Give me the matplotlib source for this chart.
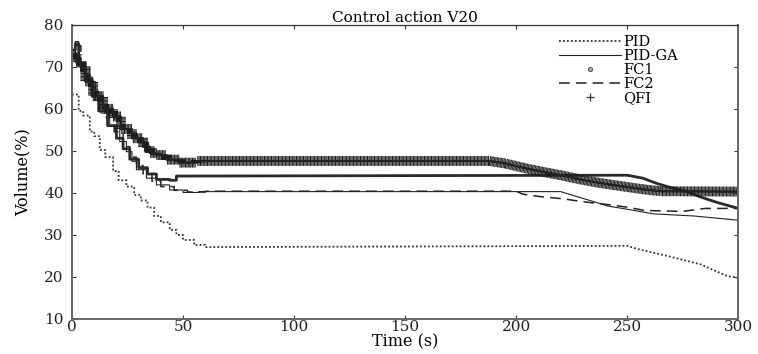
import matplotlib
matplotlib.use('Agg')
import matplotlib.pyplot as plt
import matplotlib.patheffects as pe
from matplotlib.lines import Line2D

# sampled responses (time in s, volume in %)
t_pid = [0, 3, 5, 8, 10, 12.5, 15, 18.5, 21, 24.5, 28, 31, 34, 37, 40, 44, 47, 50, 55, 60,
         250, 255, 268, 283, 295, 300]
v_pid = [63.4, 59.5, 58.4, 54.6, 53.5, 50.2, 48.5, 45.2, 43, 41.5, 39.5, 38.2, 36.5, 34.5, 33,
         31.2, 30, 28.8, 27.6, 27.1, 27.4, 26.6, 25, 23, 20.2, 19.8]

t_ga = [0, 1.5, 3, 5, 8, 10.5, 13, 17, 21.5, 24.5, 27, 29, 33.5, 38, 44, 50, 57,
        220, 225, 230, 235, 241, 250, 262, 280, 300]
v_ga = [73, 76, 71, 70, 66.5, 62, 59, 55.8, 52.2, 49.8, 47.5, 45.5, 43.5, 41.9, 40.7, 40.1, 40.3,
        40.3, 39.5, 38.7, 37.9, 36.9, 36.1, 35, 34.5, 33.5]

t_fc1 = [0, 1.5, 3, 6, 9, 12, 16, 20, 23, 26, 30, 34, 38, 44, 47,
         250, 257, 263, 270, 276, 282, 290, 300]
v_fc1 = [74, 75.5, 71, 67, 63, 59.5, 56, 53, 50.5, 48, 46, 44.5, 43.2, 43, 44,
         44.2, 43.5, 42.3, 41.2, 40.5, 39.2, 37.8, 36.3]

t_fc2 = [0, 2, 4, 6, 9, 12, 15, 19, 23, 26, 29, 32, 36, 40, 46, 52, 60,
         200, 203, 211, 221, 230, 240, 250, 258, 275, 285, 300]
v_fc2 = [72, 75, 71, 68, 65, 61, 58, 54.5, 51, 48.5, 46.5, 44.5, 42.8, 41.5, 40.6, 40.2, 40.4,
         40.4, 39.7, 39.1, 38.6, 37.9, 37.3, 36.6, 35.8, 35.6, 36.3, 36.3]

t_qfi = [0, 2, 4, 6, 9.5, 14, 18.5, 22, 27, 32, 35, 38, 42.5, 48.5, 56,
         188, 195, 203, 212, 220, 228, 235, 242, 250, 258, 265, 300]
v_qfi = [73, 71, 70, 66.5, 63, 60, 58.2, 55.2, 53, 51, 49.5, 49, 47.9, 47.2, 47.6,
         47.6, 47, 46, 45, 44.2, 43.3, 42.6, 42, 41.4, 40.8, 40.4, 40.3]

labels = ['PID', 'PID-GA', 'FC1', 'FC2', 'QFI']


def staircase(t, v, t_end=60):
    # hold values (zero-order) during the coarse transient, plain line after it
    xs, ys = [], []
    for i in range(len(t)):
        if i > 0 and t[i] <= t_end:
            xs.append(t[i])
            ys.append(v[i - 1])
        xs.append(t[i])
        ys.append(v[i])
    return xs, ys


plt.rcParams['font.family'] = 'DejaVu Serif'
plt.rcParams['font.size'] = 11

fig = plt.figure(figsize=(7.58, 3.54), dpi=100)
ax = fig.add_axes([0.095, 0.099, 0.879, 0.831])

ax.plot(*staircase(t_pid, v_pid), ls=(0, (1, 1.2)), lw=1.3, color='#333333')
ax.plot(*staircase(t_ga, v_ga), ls='-', lw=0.8, color='#222222')
ax.plot(*staircase(t_fc2, v_fc2), ls=(0, (7, 4)), lw=1.1, color='#222222')
ax.plot(*staircase(t_fc1, v_fc1), ls='-', lw=2.0, color='#2a2a2a')
# dense "+" markers drawn as ticks along the path (tick length is relative to spacing)
ticks = dict(spacing=1.0, length=3.2, linewidth=0.75, foreground='#1e1e1e')
ax.plot(*staircase(t_qfi, v_qfi), ls='-', lw=1.4, color='#222222',
        path_effects=[pe.withTickedStroke(angle=90, **ticks),
                      pe.withTickedStroke(angle=-90, **ticks)])

ax.set_xlim(0, 300)
ax.set_ylim(10, 80)
ax.set_xticks(range(0, 301, 50))
ax.set_yticks(range(10, 81, 10))
ax.tick_params(direction='in', top=True, right=True, length=3, width=0.8, colors='#333333',
               labelcolor='#222222', pad=1)
ax.tick_params(axis='y', pad=6)

for side in ['left', 'bottom', 'right']:
    ax.spines[side].set_linewidth(1.4)
    ax.spines[side].set_color('#666666')
ax.spines['top'].set_linewidth(0.9)
ax.spines['top'].set_color('#333333')

ax.set_title('Control action V20', fontsize=11, pad=2)
ax.set_xlabel('Time (s)', fontsize=11.5, labelpad=-1)
ax.set_ylabel('Volume(%)', fontsize=11.5, labelpad=9)

handles = [
    Line2D([], [], ls=(0, (1, 1.2)), lw=1.3, color='#333333'),
    Line2D([], [], ls='-', lw=0.8, color='#222222'),
    Line2D([], [], ls='none', marker='o', ms=3, mfc='#aaaaaa', mec='#444444', mew=0.6),
    Line2D([], [], ls=(0, (7, 4)), lw=1.1, color='#222222'),
    Line2D([], [], ls='none', marker='+', ms=6, mew=0.9, color='#333333'),
]
ax.legend(handles, labels, loc='upper left', frameon=False, fontsize=10.5, labelspacing=0.0,
          handlelength=4.3, handletextpad=0.15, borderpad=0.2, bbox_to_anchor=(0.715, 1.0))

fig.savefig('out.png', dpi=100)
